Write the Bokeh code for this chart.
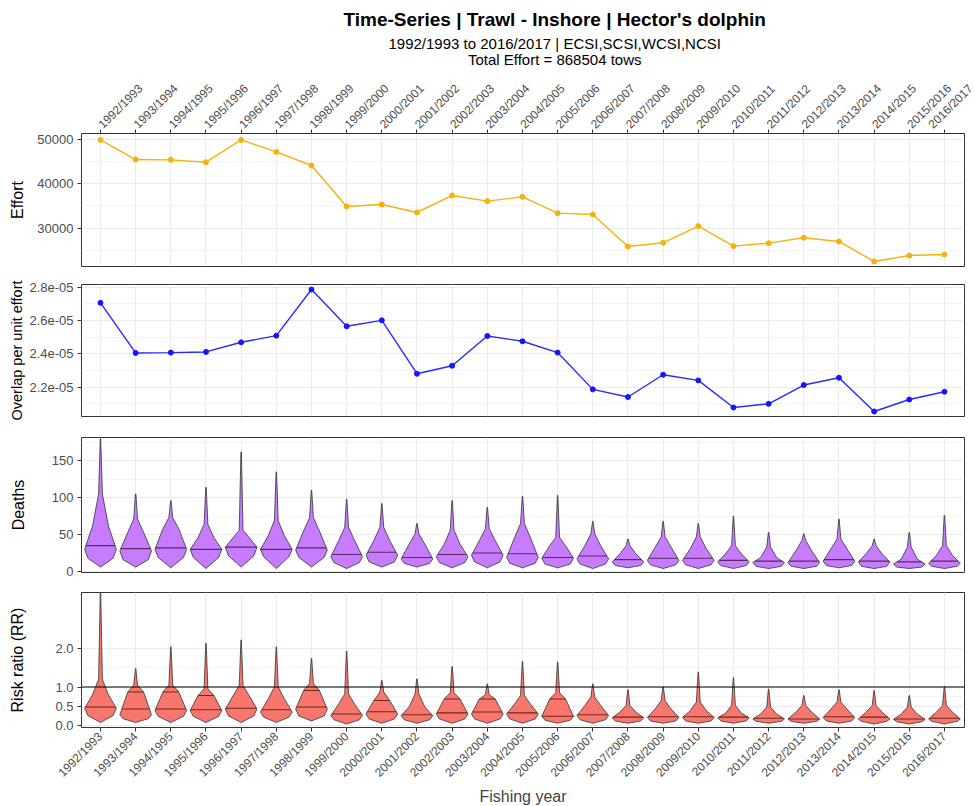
import math
import numpy as np
from bokeh.plotting import figure
from bokeh.layouts import column
from bokeh.models import Range1d, FixedTicker, CustomJSTickFormatter, Span, PrintfTickFormatter
from bokeh.core.properties import value
from bokeh.embed import file_html
from bokeh.resources import INLINE

# ---------------- data ----------------
YEARS = ["1992/1993", "1993/1994", "1994/1995", "1995/1996", "1996/1997", "1997/1998",
         "1998/1999", "1999/2000", "2000/2001", "2001/2002", "2002/2003", "2003/2004",
         "2004/2005", "2005/2006", "2006/2007", "2007/2008", "2008/2009", "2009/2010",
         "2010/2011", "2011/2012", "2012/2013", "2013/2014", "2014/2015", "2015/2016",
         "2016/2017"]

EFFORT = [49900, 45480, 45400, 44880, 49900, 47200, 44130, 34870, 35320, 33520, 37360, 36080,
          37060, 33370, 33070, 25850, 26680, 30450, 25930, 26600, 27820, 26980, 22470, 23820, 24050]

OVERLAP = [2.706e-05, 2.405e-05, 2.407e-05, 2.411e-05, 2.469e-05, 2.509e-05, 2.786e-05, 2.565e-05,
           2.601e-05, 2.280e-05, 2.328e-05, 2.507e-05, 2.475e-05, 2.407e-05, 2.186e-05, 2.140e-05,
           2.274e-05, 2.240e-05, 2.077e-05, 2.099e-05, 2.212e-05, 2.256e-05, 2.053e-05, 2.125e-05, 2.172e-05]

# Deaths violins: profile levels (bottom, low, peak, half, neck, top) and median
D_BOT = [6, 6, 5, 4, 6, 4, 6, 4, 6, 6, 5, 5, 5, 5, 4, 5, 4, 4, 4, 4, 4, 5, 4, 4, 4]
D_LOW = [18, 16, 19, 19, 21, 20, 19, 12, 13, 11, 12, 13, 11, 10, 10, 8, 9, 9, 8, 7, 7, 8, 7, 6, 7]
D_PEAK = [30, 28, 30, 30, 33, 30, 29, 20, 22, 17, 20, 22, 19, 18, 17, 13, 15, 15, 13, 12, 12, 14, 13, 10, 11]
D_HALF = [62, 53, 58, 46, 46, 49, 55, 42, 42, 37, 37, 42, 46, 35, 35, 24, 33, 31, 24, 19, 28, 31, 24, 17, 22]
D_NECK = [105, 71, 73, 64, 56, 69, 73, 60, 60, 51, 56, 58, 65, 46, 51, 35, 47, 47, 35, 33, 42, 44, 35, 33, 35]
D_TOP = [180, 105, 96, 114, 162, 135, 110, 98, 92, 65, 96, 87, 102, 103, 68, 44, 68, 65, 75, 53, 51, 71, 44, 53, 76]
D_MED = [35, 31, 32, 30, 33, 30, 32, 23, 26, 19, 23, 25, 24, 19, 21, 16, 18, 18, 15, 14, 14, 16, 14, 13, 14]

# Risk ratio violins
R_BOT = [0.08, 0.08, 0.08, 0.08, 0.08, 0.08, 0.12, 0.04, 0.06, 0.06, 0.06, 0.06, 0.06,
         0.06, 0.06, 0.06, 0.06, 0.06, 0.06, 0.06, 0.06, 0.06, 0.04, 0.04, 0.04]
R_LOW = [0.26, 0.18, 0.24, 0.24, 0.25, 0.22, 0.25, 0.15, 0.17, 0.15, 0.17, 0.17, 0.17,
         0.14, 0.15, 0.12, 0.12, 0.12, 0.12, 0.11, 0.11, 0.12, 0.11, 0.10, 0.11]
R_PEAK = [0.45, 0.28, 0.39, 0.39, 0.43, 0.35, 0.43, 0.26, 0.30, 0.26, 0.30, 0.30, 0.30,
          0.24, 0.26, 0.20, 0.21, 0.21, 0.20, 0.17, 0.17, 0.21, 0.17, 0.16, 0.17]
R_HALF = [0.80, 0.87, 0.87, 0.78, 0.78, 0.70, 0.91, 0.56, 0.65, 0.48, 0.69, 0.69, 0.56,
          0.69, 0.52, 0.35, 0.43, 0.39, 0.32, 0.30, 0.35, 0.43, 0.35, 0.30, 0.35]
R_NECK = [1.20, 1.05, 1.05, 0.95, 1.04, 1.00, 1.09, 0.82, 0.87, 0.82, 0.85, 0.80, 0.78,
          0.85, 0.74, 0.52, 0.65, 0.61, 0.52, 0.48, 0.52, 0.61, 0.52, 0.48, 0.52]
R_TOP = [3.45, 1.48, 2.04, 2.13, 2.22, 2.04, 1.74, 1.93, 1.17, 1.21, 1.53, 1.08, 1.66,
         1.65, 1.08, 0.93, 1.00, 1.39, 1.24, 0.95, 0.78, 0.93, 0.91, 0.78, 1.01]
R_MED = [0.48, 0.43, 0.43, 0.41, 0.45, 0.41, 0.48, 0.30, 0.36, 0.28, 0.33, 0.35, 0.33,
         0.24, 0.28, 0.22, 0.23, 0.23, 0.22, 0.19, 0.17, 0.23, 0.22, 0.17, 0.19]
R_UPPER = [None, 0.87, 0.87, 0.78, None, None, 0.91, None, 0.65, None, 0.69, 0.69, None,
           0.69, None, None, None, None, None, None, None, None, None, None, None]

EFFORT_TICKS = [30000, 40000, 50000]
OVERLAP_TICKS = [2.2e-05, 2.4e-05, 2.6e-05, 2.8e-05]
DEATH_TICKS = [0, 50, 100, 150]
RR_TICKS = [0.0, 0.5, 1.0, 2.0]

# ---------------- style ----------------
FONT = "Liberation Sans"
KNOT_W = [0.0, 0.8, 1.0, 0.5, 0.12, 0.015]  # relative half-widths of the profile levels
HALF = 0.45
XPOS = list(range(1, len(YEARS) + 1))
XR = (0.46, 25.57)
FW = 883
BL, BR = 81, 11
TOTAL_W = BL + FW + BR


def base_fig(frame_h, top, bottom, yr, ticks, minor, xloc="below", standoff=10, label="",
             label_size="16px"):
    p = figure(frame_width=FW, frame_height=frame_h, min_border_left=BL, min_border_right=BR,
               min_border_top=top, min_border_bottom=bottom,
               x_range=Range1d(*XR), y_range=Range1d(*yr),
               output_backend="svg", toolbar_location=None, x_axis_location=xloc)
    p.outline_line_color = "#333333"
    p.outline_line_width = 1
    p.background_fill_color = "white"
    p.border_fill_color = "white"
    p.xgrid.ticker = FixedTicker(ticks=XPOS)
    p.xgrid.grid_line_color = "#ebebeb"
    p.ygrid.ticker = FixedTicker(ticks=ticks, minor_ticks=minor)
    p.ygrid.grid_line_color = "#ebebeb"
    p.ygrid.minor_grid_line_color = "#f4f4f4"
    ya = p.yaxis[0]
    ya.ticker = FixedTicker(ticks=ticks)
    ya.axis_line_color = None
    ya.major_tick_line_color = "#333333"
    ya.major_tick_out = 4
    ya.major_tick_in = 0
    ya.minor_tick_line_color = None
    ya.major_label_text_font = FONT
    ya.major_label_text_font_size = "13px"
    ya.major_label_text_color = "#4d4d4d"
    ya.major_label_standoff = 4
    ya.axis_label = label
    ya.axis_label_text_font = FONT
    ya.axis_label_text_font_size = label_size
    ya.axis_label_text_font_style = "normal"
    ya.axis_label_text_color = "black"
    ya.axis_label_standoff = standoff
    return p


def style_xaxis(ax):
    ax.ticker = FixedTicker(ticks=XPOS)
    ax.major_label_overrides = {i + 1: YEARS[i] for i in range(len(YEARS))}
    ax.major_label_orientation = math.pi / 4
    ax.axis_line_color = None
    ax.major_tick_line_color = "#333333"
    ax.major_tick_out = 4
    ax.major_tick_in = 0
    ax.minor_tick_line_color = None
    ax.major_label_text_font = FONT
    ax.major_label_text_font_size = "12px"
    ax.major_label_text_color = "#4d4d4d"
    ax.major_label_standoff = 3


def draw_violins(p, levels, med, fill, med_color, upper=None):
    xs_all, ys_all = [], []
    sx0, sx1, sy = [], [], []
    for i, cx in enumerate(XPOS):
        ys = [lv[i] for lv in levels]
        ws = [w * HALF for w in KNOT_W]
        xs_all.append([cx - w for w in ws] + [cx + w for w in ws[::-1]])
        ys_all.append(ys + ys[::-1])
        w = float(np.interp(med[i], ys, ws))
        sx0.append(cx - w); sx1.append(cx + w); sy.append(med[i])
        if upper is not None and upper[i] is not None:
            w2 = float(np.interp(upper[i], ys, ws))
            sx0.append(cx - w2); sx1.append(cx + w2); sy.append(upper[i])
    p.patches(xs_all, ys_all, fill_color=fill, line_color="#333333", line_width=0.8)
    p.segment(x0=sx0, x1=sx1, y0=sy, y1=sy, line_color=med_color, line_width=1.1)


# ---------------- title figure ----------------
TH = 70
tf = figure(width=TOTAL_W, height=TH, x_range=Range1d(0, TOTAL_W), y_range=Range1d(0, TH),
            x_axis_type=None, y_axis_type=None, output_backend="svg", toolbar_location=None,
            min_border=0)
tf.outline_line_color = None
tf.xgrid.visible = False
tf.ygrid.visible = False
tcx = BL + FW / 2
tf.text(x=[tcx], y=[TH - 19], text=["Time-Series | Trawl - Inshore | Hector's dolphin"],
        text_font=value(FONT), text_font_size="19px", text_font_style="bold",
        text_align="center", text_baseline="middle", text_color="black")
tf.text(x=[tcx, tcx], y=[TH - 43, TH - 59],
        text=["1992/1993 to 2016/2017 | ECSI,SCSI,WCSI,NCSI", "Total Effort = 868504 tows"],
        text_font=value(FONT), text_font_size="15px",
        text_align="center", text_baseline="middle", text_color="black")

# ---------------- effort ----------------
p1 = base_fig(133, 63, 9, (21330, 51354), EFFORT_TICKS, [25000, 35000, 45000],
              xloc="above", standoff=8, label="Effort")
style_xaxis(p1.xaxis[0])
p1.line(XPOS, EFFORT, line_color="#F5B20C", line_width=1.4)
p1.scatter(XPOS, EFFORT, size=5, fill_color="#F5B20C", line_color="#F5B20C")

# ---------------- overlap ----------------
p2 = base_fig(132, 9, 9, (2.0229e-05, 2.8163e-05), OVERLAP_TICKS,
              [2.1e-05, 2.3e-05, 2.5e-05, 2.7e-05], standoff=1, label="Overlap per unit effort",
              label_size="14.5px")
p2.xaxis.visible = False
p2.yaxis[0].formatter = CustomJSTickFormatter(code=r"""
const s = tick.toExponential(1);
return s.replace(/e([+-])(\d)$/, (m, a, b) => "e" + a + "0" + b);
""")
p2.line(XPOS, OVERLAP, line_color="#2a2aff", line_width=1.4)
p2.scatter(XPOS, OVERLAP, size=5, fill_color="#1515ff", line_color="#1515ff")

# ---------------- deaths ----------------
p3 = base_fig(135, 12, 9, (-1.4, 181.6), DEATH_TICKS, [25, 75, 125, 175], standoff=22, label="Deaths")
p3.xaxis.visible = False
draw_violins(p3, [D_BOT, D_LOW, D_PEAK, D_HALF, D_NECK, D_TOP], D_MED, "#C77CFF", "#5a2a5a")

# ---------------- risk ratio ----------------
p4 = base_fig(135, 11, 69, (-0.05, 3.45), RR_TICKS, [0.25, 0.75, 1.5], standoff=26, label="Risk ratio (RR)")
p4.yaxis[0].formatter = PrintfTickFormatter(format="%.1f")
style_xaxis(p4.xaxis[0])
p4.xaxis[0].axis_label = "Fishing year"
p4.xaxis[0].axis_label_text_font = FONT
p4.xaxis[0].axis_label_text_font_size = "16px"
p4.xaxis[0].axis_label_text_font_style = "normal"
p4.xaxis[0].axis_label_standoff = 0
draw_violins(p4, [R_BOT, R_LOW, R_PEAK, R_HALF, R_NECK, R_TOP], R_MED, "#F8766D", "#6a2a1a", upper=R_UPPER)
p4.add_layout(Span(location=1.0, dimension="width", line_color="black", line_width=1.1))

layout = column(tf, p1, p2, p3, p4, spacing=0)
open("out.html", "w").write(file_html(layout, INLINE))
